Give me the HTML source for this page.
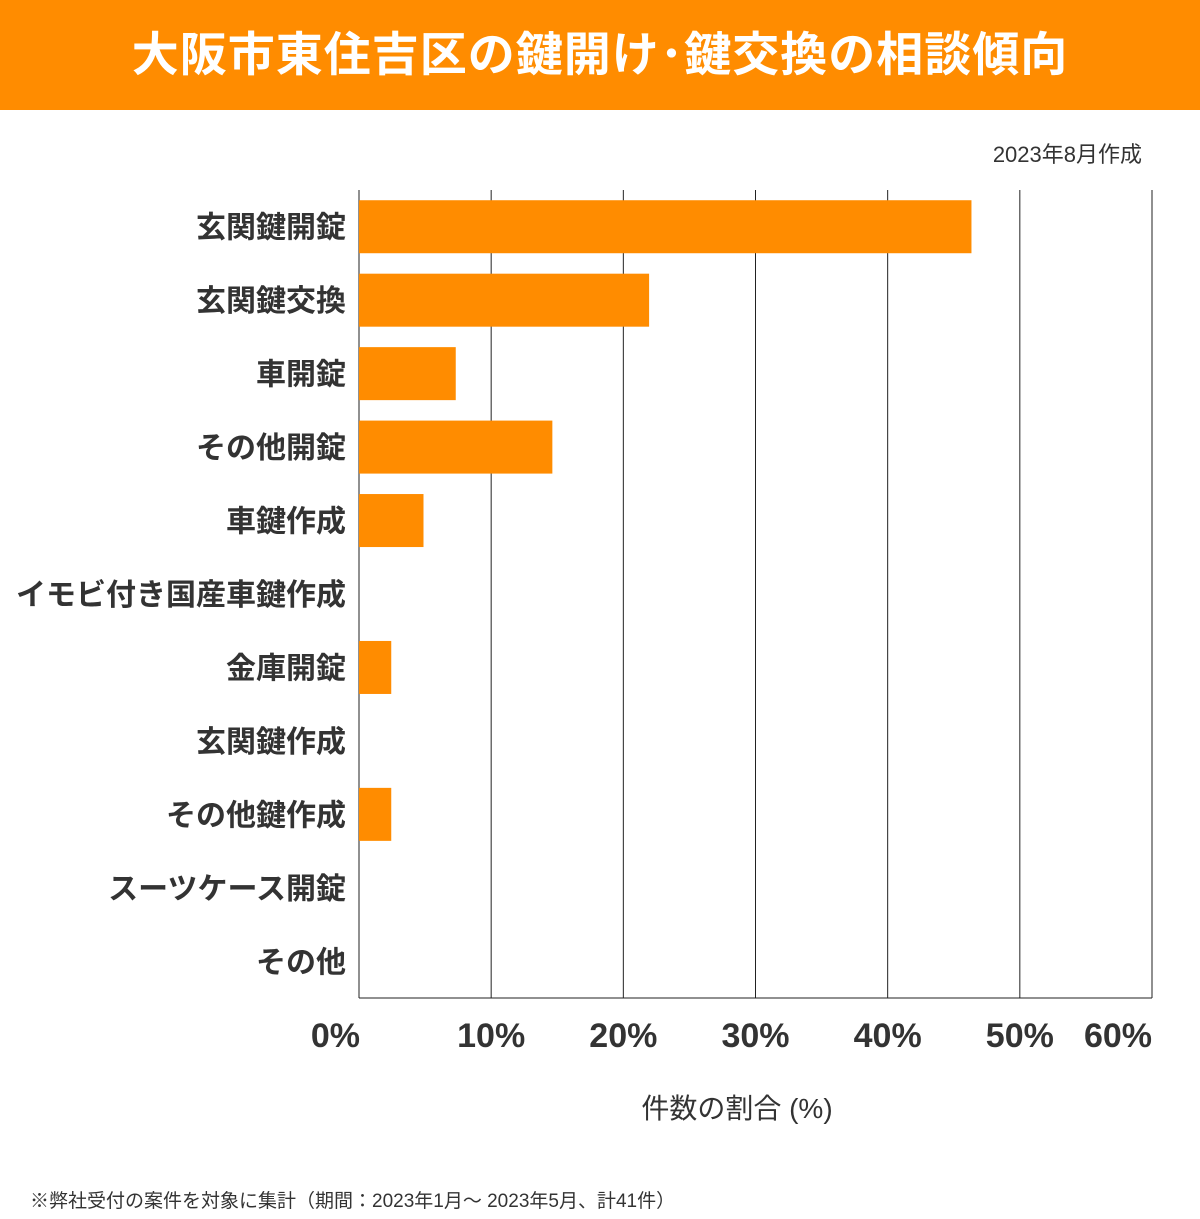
<!DOCTYPE html>
<html><head><meta charset="utf-8">
<style>
body{margin:0;width:1200px;height:1219px;background:#fff;font-family:"Liberation Sans","Noto Sans CJK JP",sans-serif;overflow:hidden;position:relative}
.hdr{position:absolute;left:0;top:0;width:1200px;height:110px;background:#FF8C00;color:#fff;font-weight:bold;font-size:47px;text-align:center;line-height:110px;letter-spacing:1px}
</style></head><body>
<div class="hdr">大阪市東住吉区の鍵開け･鍵交換の相談傾向</div>
<svg id="chart" width="1200" height="1219" style="position:absolute;left:0;top:0">
<text x="1142" y="162" text-anchor="end" font-size="22" fill="#333">2023年8月作成</text>
<g id="grid"></g><g id="bars"></g><g id="labels"></g><g id="ticks"></g>
<text x="737" y="1118" text-anchor="middle" font-size="28" fill="#333">件数の割合 (%)</text>
<text x="30" y="1207" font-size="19" fill="#333">※弊社受付の案件を対象に集計（期間：2023年1月～ 2023年5月、計41件）</text>
</svg>
<script>
const categories=["玄関鍵開錠","玄関鍵交換","車開錠","その他開錠","車鍵作成","イモビ付き国産車鍵作成","金庫開錠","玄関鍵作成","その他鍵作成","スーツケース開錠","その他"];
const values=[46.34,21.95,7.32,14.63,4.88,0,2.44,0,2.44,0,0];
const tickLabels=["0%","10%","20%","30%","40%","50%","60%"];
const tickValues=[0,10,20,30,40,50,60];
const NS="http://www.w3.org/2000/svg";
const x0=359,x1=1152,plotTop=190,plotBottom=998,xmax=60;
const xs=v=>x0+(x1-x0)*v/xmax;
const band=(plotBottom-plotTop)/categories.length;
const yc=i=>plotTop+band*(i+0.5);
function mk(t,a,p){const e=document.createElementNS(NS,t);for(const k in a)e.setAttribute(k,a[k]);p.appendChild(e);return e;}
const grid=document.getElementById('grid'),bars=document.getElementById('bars'),labels=document.getElementById('labels'),ticks=document.getElementById('ticks');
tickValues.forEach((v,i)=>{
 const l=mk('line',{x1:xs(v),x2:xs(v),y1:plotTop,y2:plotBottom,stroke:'#222','stroke-width':1},grid);
 
 
 const t=mk('text',{x:xs(v),y:1047,'text-anchor':(i==0||i==tickValues.length-1)?'end':'middle','font-size':34,'font-weight':'bold',fill:'#333'},ticks);
 if(i==0)t.setAttribute('x',xs(v)+1);
 t.textContent=tickLabels[i];
 
 
});
const ax=mk('line',{x1:x0,x2:x1,y1:plotBottom,y2:plotBottom,stroke:'#222','stroke-width':1},grid);


categories.forEach((c,i)=>{
 if(values[i]>0){
  const r=mk('rect',{x:x0,y:yc(i)-26.5,width:xs(values[i])-x0,height:53,fill:'#FF8C00'},bars);
  
  
 }
 const t=mk('text',{x:346,y:yc(i)+11,'text-anchor':'end','font-size':30,'font-weight':'bold',fill:'#333'},labels);
 t.textContent=c;
 
 
});
</script>
</body></html>
